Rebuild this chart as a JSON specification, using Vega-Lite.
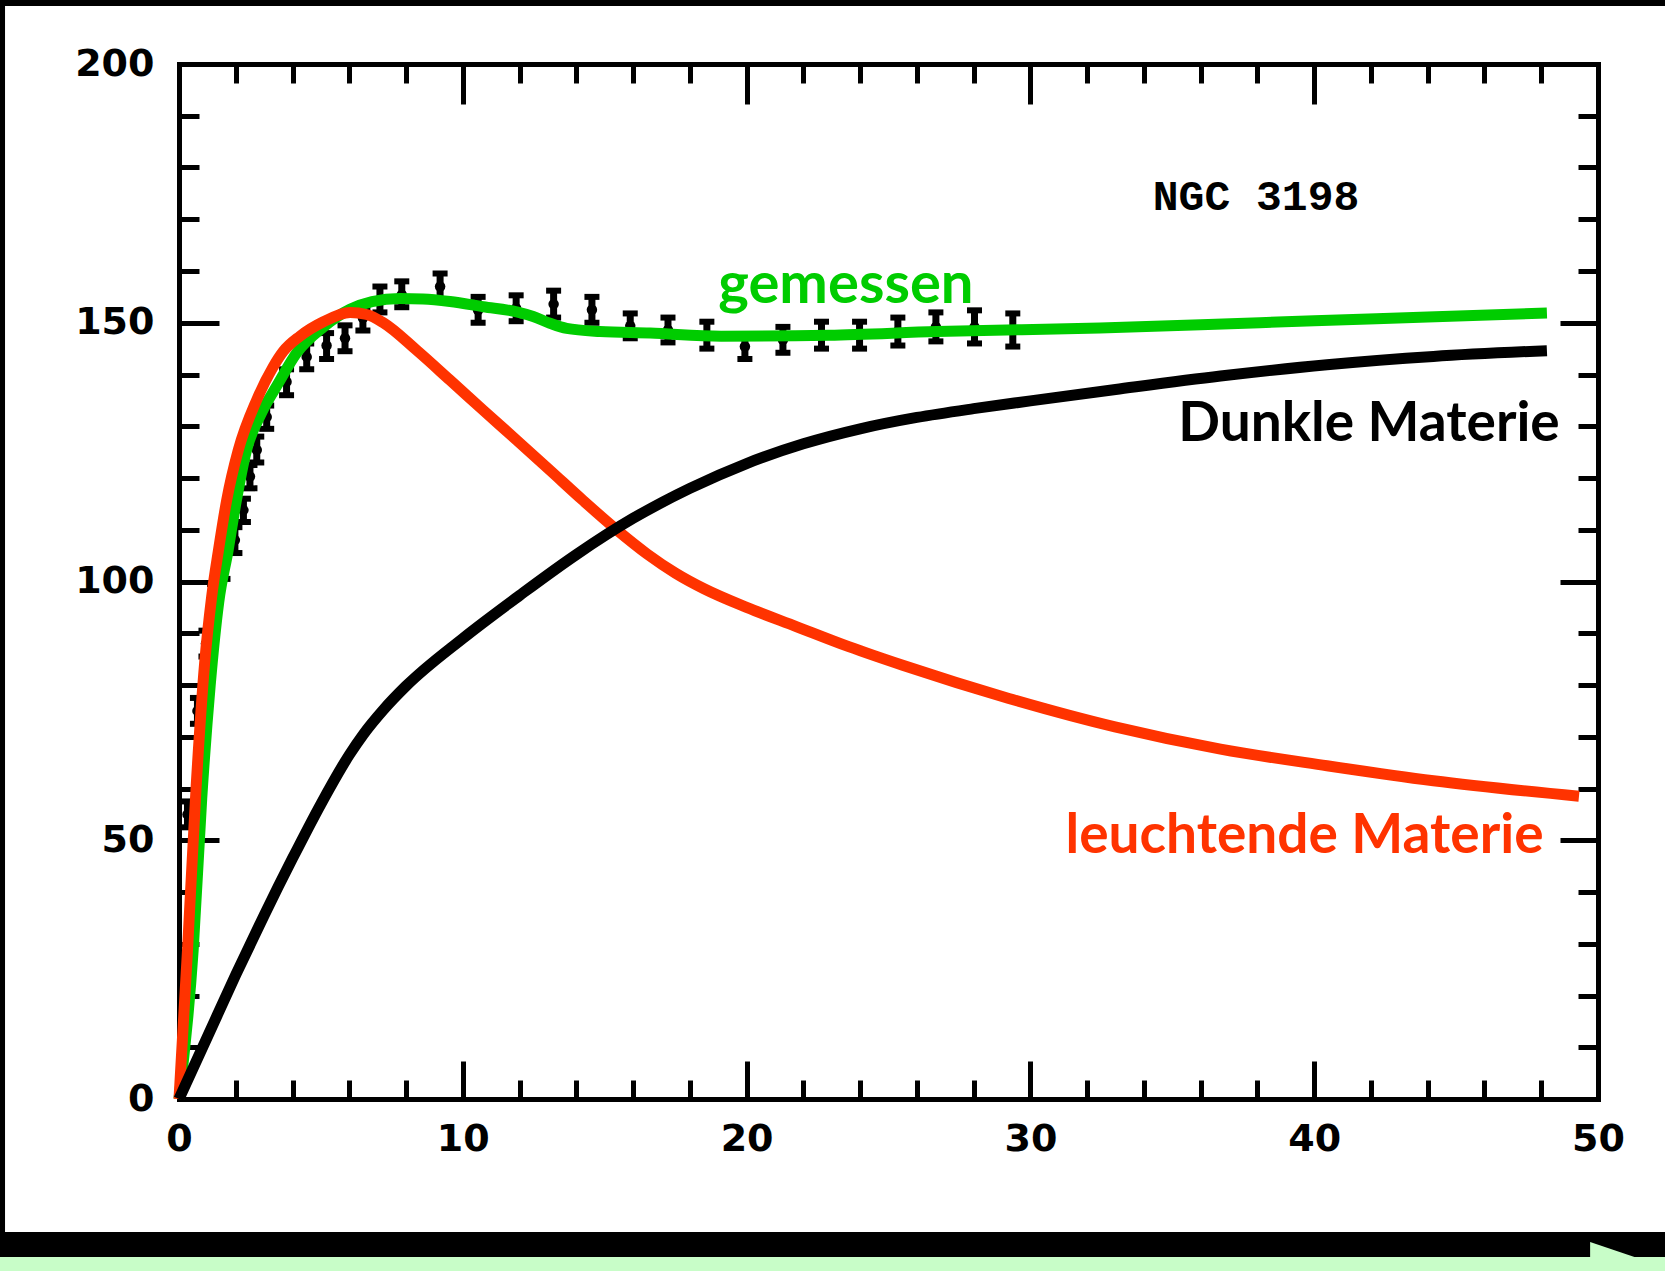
{
  "$schema": "https://vega.github.io/schema/vega-lite/v6.json",
  "width": 1419,
  "height": 1035,
  "autosize": {"type": "none"},
  "padding": {"left": 179, "top": 64, "right": 67, "bottom": 172},
  "background": "white",
  "config": {"view": {"stroke": null}, "axis": {"grid": false, "title": null}},
  "datasets": {
    "pts": [
      {"r": 0.3, "v": 55, "lo": 52.5, "hi": 57.5},
      {"r": 0.65, "v": 75, "lo": 72.5, "hi": 77.5},
      {"r": 0.95, "v": 88, "lo": 85.5, "hi": 90.5},
      {"r": 1.25, "v": 97, "lo": 94.5, "hi": 99.5},
      {"r": 1.55, "v": 103, "lo": 100.5, "hi": 105.5},
      {"r": 1.97, "v": 108, "lo": 105.5, "hi": 110.5},
      {"r": 2.27, "v": 113.8, "lo": 111.5, "hi": 116},
      {"r": 2.5, "v": 120.3, "lo": 118, "hi": 122.5},
      {"r": 2.74, "v": 125.4, "lo": 123, "hi": 128},
      {"r": 3.09, "v": 131.8, "lo": 129.5, "hi": 134},
      {"r": 3.79, "v": 138.6, "lo": 136, "hi": 141},
      {"r": 4.5, "v": 143.4, "lo": 141, "hi": 146},
      {"r": 5.2, "v": 145.6, "lo": 143, "hi": 148},
      {"r": 5.85, "v": 147, "lo": 144.5, "hi": 149.5},
      {"r": 6.48, "v": 150.9, "lo": 148.5, "hi": 153},
      {"r": 7.08, "v": 154.4, "lo": 152, "hi": 157},
      {"r": 7.85, "v": 155.4, "lo": 153, "hi": 158},
      {"r": 9.2, "v": 157, "lo": 154.5, "hi": 159.5},
      {"r": 10.54, "v": 152.4, "lo": 150, "hi": 155},
      {"r": 11.88, "v": 152.8, "lo": 150.3, "hi": 155.3},
      {"r": 13.2, "v": 153.6, "lo": 151, "hi": 156.2},
      {"r": 14.55, "v": 152.5, "lo": 150, "hi": 155},
      {"r": 15.9, "v": 149.4, "lo": 147, "hi": 151.8},
      {"r": 17.23, "v": 148.6, "lo": 146.2, "hi": 151},
      {"r": 18.6, "v": 147.6, "lo": 145, "hi": 150.2},
      {"r": 19.94, "v": 145.4, "lo": 143, "hi": 147.8},
      {"r": 21.28, "v": 146.7, "lo": 144.2, "hi": 149.2},
      {"r": 22.64, "v": 147.6, "lo": 145, "hi": 150.2},
      {"r": 23.98, "v": 147.6, "lo": 145, "hi": 150.2},
      {"r": 25.33, "v": 148.3, "lo": 145.6, "hi": 151},
      {"r": 26.67, "v": 149.2, "lo": 146.4, "hi": 152},
      {"r": 28.03, "v": 149.2, "lo": 146, "hi": 152.4},
      {"r": 29.38, "v": 148.6, "lo": 145.4, "hi": 151.8}
    ],
    "green": [
      {"r": 0, "v": 0}, {"r": 0.5, "v": 28.8}, {"r": 0.8, "v": 58}, {"r": 1.1, "v": 80},
      {"r": 1.4, "v": 96}, {"r": 1.73, "v": 106}, {"r": 2.0, "v": 115}, {"r": 2.38, "v": 125.4},
      {"r": 2.9, "v": 132.5}, {"r": 3.5, "v": 138.3}, {"r": 4.15, "v": 144.2}, {"r": 5.09, "v": 149.2},
      {"r": 6.03, "v": 152.6}, {"r": 6.8, "v": 154.1}, {"r": 7.79, "v": 154.7}, {"r": 8.6, "v": 154.6},
      {"r": 9.55, "v": 154.1}, {"r": 10.72, "v": 153.1}, {"r": 11.9, "v": 152.1}, {"r": 12.48, "v": 151.2},
      {"r": 13.07, "v": 149.9}, {"r": 13.66, "v": 148.9}, {"r": 14.83, "v": 148.3}, {"r": 16.6, "v": 148.0},
      {"r": 19.1, "v": 147.4}, {"r": 22.9, "v": 147.6}, {"r": 26.7, "v": 148.3}, {"r": 32.45, "v": 149.0},
      {"r": 36, "v": 149.6}, {"r": 40, "v": 150.4}, {"r": 44, "v": 151.1}, {"r": 48.2, "v": 151.9}
    ],
    "red": [
      {"r": 0, "v": 0}, {"r": 0.3, "v": 28.8}, {"r": 0.6, "v": 60}, {"r": 0.9, "v": 84},
      {"r": 1.15, "v": 97}, {"r": 1.39, "v": 106}, {"r": 1.68, "v": 115.7}, {"r": 2.09, "v": 125.4},
      {"r": 2.74, "v": 135.1}, {"r": 3.32, "v": 141.5}, {"r": 3.68, "v": 144.5}, {"r": 4.26, "v": 147.4},
      {"r": 5.09, "v": 150.2}, {"r": 6.03, "v": 152.0}, {"r": 6.61, "v": 151.6}, {"r": 7.2, "v": 150.0},
      {"r": 8.37, "v": 144.7}, {"r": 9.55, "v": 138.9}, {"r": 10.72, "v": 133.1}, {"r": 11.9, "v": 127.3},
      {"r": 13.07, "v": 121.5}, {"r": 14.25, "v": 115.6}, {"r": 15.42, "v": 110.0}, {"r": 16.5, "v": 105.3},
      {"r": 17.5, "v": 101.6}, {"r": 18.5, "v": 98.6}, {"r": 20, "v": 95.0}, {"r": 21.75, "v": 91.3},
      {"r": 23.6, "v": 87.4}, {"r": 25.5, "v": 83.8}, {"r": 29.24, "v": 77.4}, {"r": 32.98, "v": 71.9},
      {"r": 36.7, "v": 67.6}, {"r": 40.45, "v": 64.4}, {"r": 44.2, "v": 61.5}, {"r": 49.33, "v": 58.5}
    ],
    "black": [
      {"r": 0, "v": 0}, {"r": 1, "v": 12}, {"r": 2, "v": 24}, {"r": 3, "v": 35.5},
      {"r": 4, "v": 46.5}, {"r": 5, "v": 57}, {"r": 6, "v": 66.5}, {"r": 6.5, "v": 70.5},
      {"r": 7.2, "v": 75.2}, {"r": 8, "v": 79.8}, {"r": 10, "v": 89}, {"r": 12, "v": 97.3},
      {"r": 14, "v": 105.2}, {"r": 16, "v": 112.2}, {"r": 18, "v": 118}, {"r": 20, "v": 122.8},
      {"r": 22, "v": 126.6}, {"r": 24, "v": 129.5}, {"r": 26, "v": 131.7}, {"r": 28, "v": 133.4},
      {"r": 30, "v": 134.9}, {"r": 33, "v": 137.1}, {"r": 36.7, "v": 139.7}, {"r": 40.45, "v": 141.9},
      {"r": 44.2, "v": 143.5}, {"r": 48.2, "v": 144.6}
    ]
  },
  "resolve": {"axis": {"x": "independent", "y": "independent"}},
  "layer": [
    {
      "data": {"name": "pts"},
      "mark": {"type": "rule", "color": "black", "strokeWidth": 7},
      "encoding": {
        "x": {"field": "r", "type": "quantitative", "scale": {"domain": [0, 50], "nice": false, "zero": false},
          "axis": {"orient": "bottom", "values": [0, 10, 20, 30, 40, 50], "ticks": false, "domain": true, "domainWidth": 5, "domainColor": "black", "domainCap": "square",
            "labelFont": "DejaVu Sans", "labelFontWeight": "bold", "labelFontSize": 38, "labelColor": "black", "labelPadding": 21, "labelFlush": false, "labelOverlap": false, "title": null, "grid": false}},
        "y": {"field": "lo", "type": "quantitative", "scale": {"domain": [0, 200], "nice": false, "zero": false},
          "axis": {"orient": "left", "values": [0, 50, 100, 150, 200], "ticks": false, "domain": true, "domainWidth": 5, "domainColor": "black", "domainCap": "square",
            "labelFont": "DejaVu Sans", "labelFontWeight": "bold", "labelFontSize": 38, "labelColor": "black", "labelPadding": 25, "labelFlush": false, "labelOverlap": false, "title": null, "grid": false}},
        "y2": {"field": "hi"}
      }
    },
    {
      "data": {"name": "pts"},
      "mark": {"type": "tick", "orient": "horizontal", "color": "black", "opacity": 1, "size": 15, "thickness": 6},
      "encoding": {
        "x": {"field": "r", "type": "quantitative", "scale": {"domain": [0, 50], "nice": false, "zero": false},
          "axis": {"orient": "bottom", "values": [0, 10, 20, 30, 40, 50], "labels": false, "domain": false, "tickSize": -38, "tickWidth": 5, "tickColor": "black", "title": null, "grid": false}},
        "y": {"field": "lo", "type": "quantitative", "scale": {"domain": [0, 200], "nice": false, "zero": false},
          "axis": {"orient": "left", "values": [0, 50, 100, 150, 200], "labels": false, "domain": false, "tickSize": -40, "tickWidth": 5, "tickColor": "black", "title": null, "grid": false}}
      }
    },
    {
      "data": {"name": "pts"},
      "mark": {"type": "tick", "orient": "horizontal", "color": "black", "opacity": 1, "size": 15, "thickness": 6},
      "encoding": {
        "x": {"field": "r", "type": "quantitative", "scale": {"domain": [0, 50], "nice": false, "zero": false},
          "axis": {"orient": "bottom", "values": [2, 4, 6, 8, 12, 14, 16, 18, 22, 24, 26, 28, 32, 34, 36, 38, 42, 44, 46, 48], "labels": false, "domain": false, "tickSize": -19, "tickWidth": 5, "tickColor": "black", "title": null, "grid": false}},
        "y": {"field": "hi", "type": "quantitative", "scale": {"domain": [0, 200], "nice": false, "zero": false},
          "axis": {"orient": "left", "values": [10, 20, 30, 40, 60, 70, 80, 90, 110, 120, 130, 140, 160, 170, 180, 190], "labels": false, "domain": false, "tickSize": -20, "tickWidth": 5, "tickColor": "black", "title": null, "grid": false}}
      }
    },
    {
      "data": {"name": "pts"},
      "mark": {"type": "point", "filled": true, "color": "black", "opacity": 1, "size": 110},
      "encoding": {
        "x": {"field": "r", "type": "quantitative", "scale": {"domain": [0, 50], "nice": false, "zero": false},
          "axis": {"orient": "top", "values": [0, 10, 20, 30, 40, 50], "labels": false, "domain": true, "domainWidth": 5, "domainColor": "black", "domainCap": "square", "tickSize": -40, "tickWidth": 5, "tickColor": "black", "title": null, "grid": false}},
        "y": {"field": "v", "type": "quantitative", "scale": {"domain": [0, 200], "nice": false, "zero": false},
          "axis": {"orient": "right", "values": [0, 50, 100, 150, 200], "labels": false, "domain": true, "domainWidth": 5, "domainColor": "black", "domainCap": "square", "tickSize": -38, "tickWidth": 5, "tickColor": "black", "title": null, "grid": false}}
      }
    },
    {
      "data": {"name": "green"},
      "mark": {"type": "line", "color": "#00cc00", "strokeWidth": 11, "interpolate": "monotone", "strokeCap": "butt", "strokeJoin": "round"},
      "encoding": {
        "x": {"field": "r", "type": "quantitative", "scale": {"domain": [0, 50], "nice": false, "zero": false},
          "axis": {"orient": "top", "values": [2, 4, 6, 8, 12, 14, 16, 18, 22, 24, 26, 28, 32, 34, 36, 38, 42, 44, 46, 48], "labels": false, "domain": false, "tickSize": -19, "tickWidth": 5, "tickColor": "black", "title": null, "grid": false}},
        "y": {"field": "v", "type": "quantitative", "scale": {"domain": [0, 200], "nice": false, "zero": false},
          "axis": {"orient": "right", "values": [10, 20, 30, 40, 60, 70, 80, 90, 110, 120, 130, 140, 160, 170, 180, 190], "labels": false, "domain": false, "tickSize": -20, "tickWidth": 5, "tickColor": "black", "title": null, "grid": false}}
      }
    },
    {
      "data": {"name": "red"},
      "mark": {"type": "line", "color": "#ff3300", "strokeWidth": 11, "interpolate": "monotone", "strokeCap": "butt", "strokeJoin": "round"},
      "encoding": {
        "x": {"field": "r", "type": "quantitative", "scale": {"domain": [0, 50], "nice": false, "zero": false}, "axis": null},
        "y": {"field": "v", "type": "quantitative", "scale": {"domain": [0, 200], "nice": false, "zero": false}, "axis": null}
      }
    },
    {
      "data": {"name": "black"},
      "mark": {"type": "line", "color": "black", "strokeWidth": 11, "interpolate": "monotone", "strokeCap": "butt", "strokeJoin": "round"},
      "encoding": {
        "x": {"field": "r", "type": "quantitative", "scale": {"domain": [0, 50], "nice": false, "zero": false}, "axis": null},
        "y": {"field": "v", "type": "quantitative", "scale": {"domain": [0, 200], "nice": false, "zero": false}, "axis": null}
      }
    },
    {
      "data": {"values": [{"t": "NGC 3198"}]},
      "mark": {"type": "text", "font": "Liberation Mono", "fontWeight": "bold", "fontSize": 43, "color": "black", "align": "center", "baseline": "alphabetic"},
      "encoding": {
        "x": {"datum": 37.95, "type": "quantitative", "scale": {"domain": [0, 50], "nice": false, "zero": false}, "axis": null},
        "y": {"datum": 171.8, "type": "quantitative", "scale": {"domain": [0, 200], "nice": false, "zero": false}, "axis": null},
        "text": {"field": "t"}
      }
    },
    {
      "data": {"values": [{"t": "gemessen"}]},
      "mark": {"type": "text", "font": "Lato", "fontWeight": "bold", "fontSize": 58, "color": "#00cc00", "align": "center", "baseline": "alphabetic"},
      "encoding": {
        "x": {"datum": 23.5, "type": "quantitative", "scale": {"domain": [0, 50], "nice": false, "zero": false}, "axis": null},
        "y": {"datum": 153.8, "type": "quantitative", "scale": {"domain": [0, 200], "nice": false, "zero": false}, "axis": null},
        "text": {"field": "t"}
      }
    },
    {
      "data": {"values": [{"t": "Dunkle Materie"}]},
      "mark": {"type": "text", "font": "Lato", "fontWeight": "bold", "fontSize": 55, "color": "black", "align": "center", "baseline": "alphabetic"},
      "encoding": {
        "x": {"datum": 41.93, "type": "quantitative", "scale": {"domain": [0, 50], "nice": false, "zero": false}, "axis": null},
        "y": {"datum": 127.1, "type": "quantitative", "scale": {"domain": [0, 200], "nice": false, "zero": false}, "axis": null},
        "text": {"field": "t"}
      }
    },
    {
      "data": {"values": [{"t": "leuchtende Materie"}]},
      "mark": {"type": "text", "font": "Lato", "fontWeight": "bold", "fontSize": 55, "color": "#ff3300", "align": "center", "baseline": "alphabetic"},
      "encoding": {
        "x": {"datum": 39.66, "type": "quantitative", "scale": {"domain": [0, 50], "nice": false, "zero": false}, "axis": null},
        "y": {"datum": 47.5, "type": "quantitative", "scale": {"domain": [0, 200], "nice": false, "zero": false}, "axis": null},
        "text": {"field": "t"}
      }
    },
    {
      "data": {"values": [{"part": "top band"}]},
      "mark": {"type": "rect", "color": "black"},
      "encoding": {
        "x": {"datum": -6.31, "type": "quantitative", "scale": {"domain": [0, 50], "nice": false, "zero": false}, "axis": null},
        "x2": {"datum": 52.37},
        "y": {"datum": 212.4, "type": "quantitative", "scale": {"domain": [0, 200], "nice": false, "zero": false}, "axis": null},
        "y2": {"datum": 211.2}
      }
    },
    {
      "data": {"values": [{"part": "left band"}]},
      "mark": {"type": "rect", "color": "black"},
      "encoding": {
        "x": {"datum": -6.31, "type": "quantitative", "scale": {"domain": [0, 50], "nice": false, "zero": false}, "axis": null},
        "x2": {"datum": -6.13},
        "y": {"datum": 212.4, "type": "quantitative", "scale": {"domain": [0, 200], "nice": false, "zero": false}, "axis": null},
        "y2": {"datum": -25.7}
      }
    },
    {
      "data": {"values": [{"part": "bottom bar"}]},
      "mark": {"type": "rect", "color": "black"},
      "encoding": {
        "x": {"datum": -6.31, "type": "quantitative", "scale": {"domain": [0, 50], "nice": false, "zero": false}, "axis": null},
        "x2": {"datum": 52.37},
        "y": {"datum": -25.7, "type": "quantitative", "scale": {"domain": [0, 200], "nice": false, "zero": false}, "axis": null},
        "y2": {"datum": -30.53}
      }
    },
    {
      "data": {"values": [{"part": "green band"}]},
      "mark": {"type": "rect", "color": "#c8fdc8"},
      "encoding": {
        "x": {"datum": -6.31, "type": "quantitative", "scale": {"domain": [0, 50], "nice": false, "zero": false}, "axis": null},
        "x2": {"datum": 52.37},
        "y": {"datum": -30.53, "type": "quantitative", "scale": {"domain": [0, 200], "nice": false, "zero": false}, "axis": null},
        "y2": {"datum": -33.3}
      }
    },
    {
      "data": {"values": [{"part": "arrow"}]},
      "mark": {"type": "point", "filled": true, "color": "#c8fdc8", "opacity": 1, "shape": "M-1,-0.676L1,0L-1,0.676Z", "size": 4624},
      "encoding": {
        "x": {"datum": 50.92, "type": "quantitative", "scale": {"domain": [0, 50], "nice": false, "zero": false}, "axis": null},
        "y": {"datum": -32.08, "type": "quantitative", "scale": {"domain": [0, 200], "nice": false, "zero": false}, "axis": null}
      }
    }
  ]
}
